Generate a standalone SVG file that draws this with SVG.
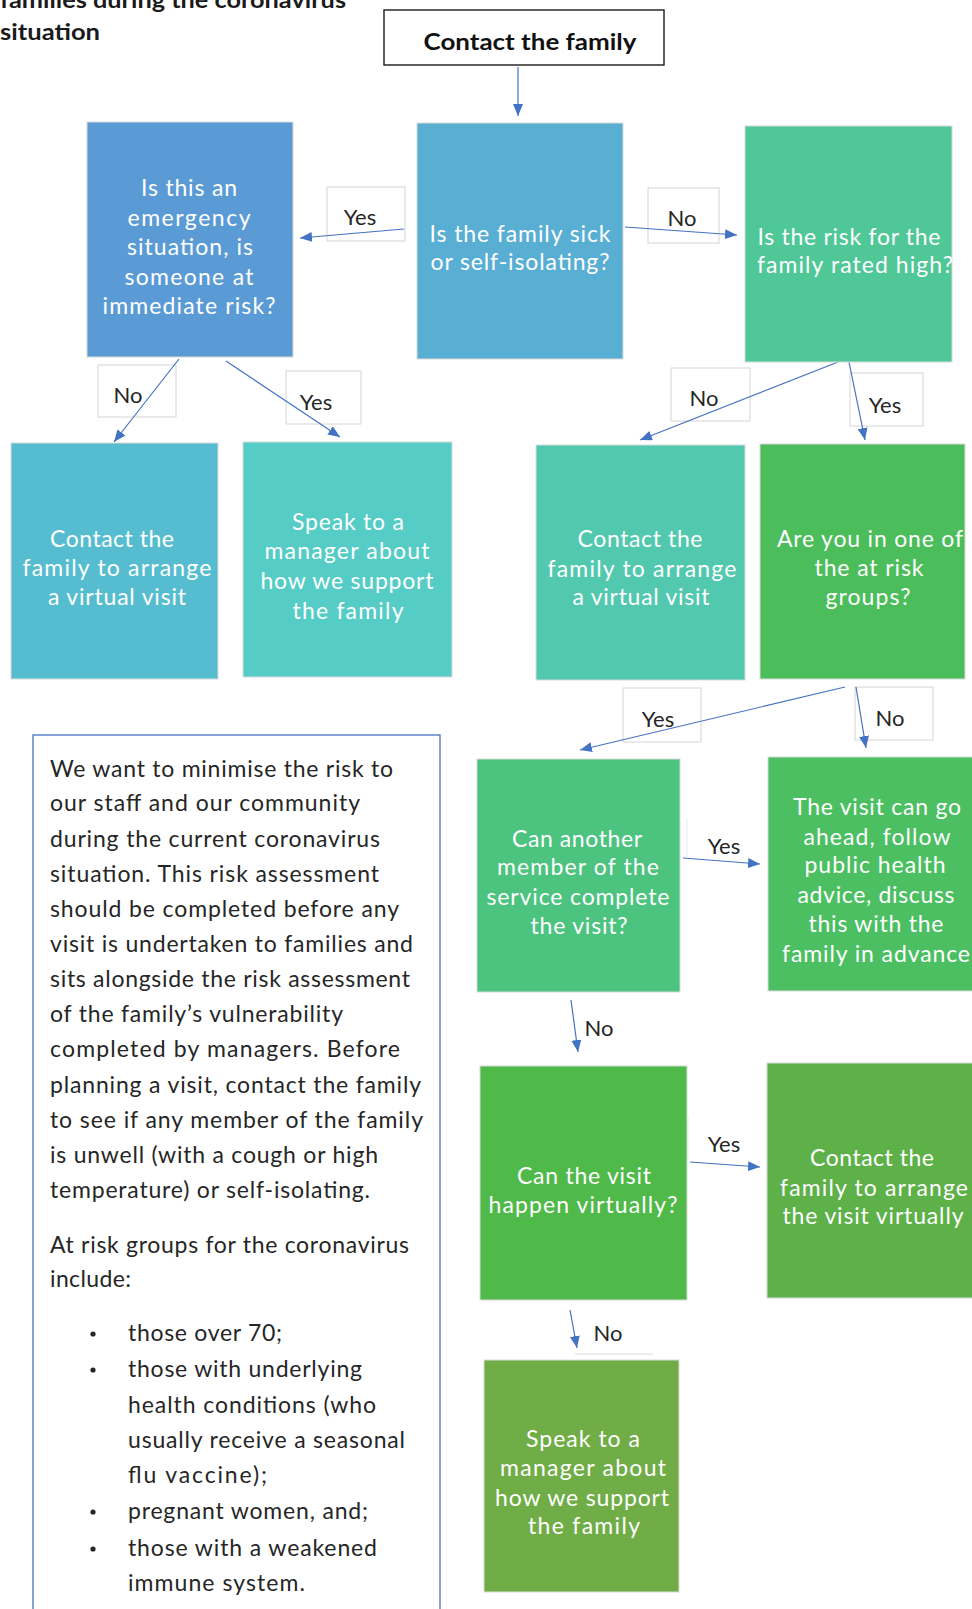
<svg xmlns="http://www.w3.org/2000/svg" width="972" height="1609" viewBox="0 0 972 1609">
<style>
  .bt { fill: #ffffff; font-family: Lato, "Open Sans", sans-serif; font-size: 23px; text-anchor: middle; }
  .bx { stroke: #dadada; stroke-width: 1; }
  .lr { fill: #ffffff; stroke: #d4d4d4; stroke-width: 1; }
  .lt { fill: #262626; font-family: Lato, "Open Sans", sans-serif; font-size: 22px; text-anchor: middle; }
  .pt { fill: #262626; font-family: Lato, "Open Sans", sans-serif; font-size: 23px; }
  .ttl { fill: #1a1a1a; font-family: Lato, "Open Sans", sans-serif; font-size: 23px; font-weight: bold; }
  .cn { stroke: #4472C4; stroke-width: 1.2; fill: none; marker-end: url(#ah); }
</style>
<defs>
  <marker id="ah" markerUnits="userSpaceOnUse" markerWidth="13" markerHeight="11" refX="12" refY="5" orient="auto">
    <path d="M0,0 L12,5 L0,10 z" fill="#4472C4"/>
  </marker>
</defs>
<rect x="0" y="0" width="972" height="1609" fill="#ffffff"/>

<g id="title">
  <text class="ttl" x="0" y="8" textLength="346" lengthAdjust="spacingAndGlyphs">families during the coronavirus</text>
  <text class="ttl" x="0" y="40" textLength="100" lengthAdjust="spacingAndGlyphs">situation</text>
</g>

<g id="label-boxes">
  <rect class="lr" x="327" y="187" width="78" height="54"/>
  <rect class="lr" x="648" y="188" width="71" height="55"/>
  <rect class="lr" x="98" y="365" width="78" height="52"/>
  <rect class="lr" x="286" y="371" width="75" height="53"/>
  <rect class="lr" x="671" y="368" width="79" height="53"/>
  <rect class="lr" x="850" y="373" width="73" height="53"/>
  <rect class="lr" x="623" y="688" width="78" height="54"/>
  <rect class="lr" x="855" y="687" width="78" height="53"/>
  <line x1="687" y1="818" x2="687" y2="857" stroke="#ececec" stroke-width="1"/>
  <line x1="688" y1="1115" x2="688" y2="1160" stroke="#ececec" stroke-width="1"/>
  <line x1="575" y1="1354" x2="653" y2="1354" stroke="#dcdcdc" stroke-width="1"/>
</g>

<g id="connectors">
  <line class="cn" x1="518" y1="67" x2="518" y2="116"/>
  <line class="cn" x1="404" y1="229" x2="300" y2="238"/>
  <line class="cn" x1="625" y1="227" x2="737" y2="235"/>
  <line class="cn" x1="179" y1="359" x2="114" y2="442"/>
  <line class="cn" x1="226" y1="361" x2="340" y2="437"/>
  <line class="cn" x1="838" y1="362" x2="640" y2="440"/>
  <line class="cn" x1="849" y1="362" x2="865" y2="440"/>
  <line class="cn" x1="845" y1="687" x2="580" y2="750"/>
  <line class="cn" x1="856" y1="687" x2="866" y2="748"/>
  <line class="cn" x1="683" y1="858" x2="760" y2="864"/>
  <line class="cn" x1="571" y1="1000" x2="578" y2="1052"/>
  <line class="cn" x1="690" y1="1162" x2="760" y2="1167"/>
  <line class="cn" x1="570" y1="1310" x2="577" y2="1348"/>
</g>

<g id="labels">
  <text class="lt" x="360" y="225">Yes</text>
  <text class="lt" x="682" y="226">No</text>
  <text class="lt" x="128" y="403">No</text>
  <text class="lt" x="316" y="410">Yes</text>
  <text class="lt" x="704" y="406">No</text>
  <text class="lt" x="885" y="413">Yes</text>
  <text class="lt" x="658" y="727">Yes</text>
  <text class="lt" x="890" y="726">No</text>
  <text class="lt" x="724" y="854">Yes</text>
  <text class="lt" x="724" y="1152">Yes</text>
  <text class="lt" x="599" y="1036">No</text>
  <text class="lt" x="608" y="1341">No</text>
</g>

<g id="contact-family">
  <rect x="384" y="10" width="280" height="55" fill="#ffffff" stroke="#1a1a1a" stroke-width="1.4"/>
  <text x="530" y="50" fill="#111111" font-family="Lato, 'Open Sans', sans-serif" font-size="23" font-weight="bold" text-anchor="middle" textLength="213" lengthAdjust="spacingAndGlyphs">Contact the  family</text>
</g>

<g id="emergency">
  <rect class="bx" x="87" y="122" width="206" height="235" fill="#5B9BD5"/>
  <text class="bt" x="189" y="196" textLength="96">Is this an</text>
  <text class="bt" x="189" y="226" textLength="123">emergency</text>
  <text class="bt" x="190" y="255" textLength="126">situation, is</text>
  <text class="bt" x="189" y="285" textLength="129">someone at</text>
  <text class="bt" x="189" y="314" textLength="173">immediate risk?</text>
</g>

<g id="sick">
  <rect class="bx" x="417" y="123" width="206" height="236" fill="#58AED3"/>
  <text class="bt" x="520" y="242" textLength="181">Is the family sick</text>
  <text class="bt" x="520" y="270" textLength="179">or self-isolating?</text>
</g>

<g id="risk-high">
  <rect class="bx" x="745" y="126" width="207" height="236" fill="#4FC797"/>
  <text class="bt" x="849" y="245" textLength="183">Is the risk for the</text>
  <text class="bt" x="855" y="273" textLength="196">family rated high?</text>
</g>

<g id="virtual-1">
  <rect class="bx" x="11" y="443" width="207" height="236" fill="#56BDD0"/>
  <text class="bt" x="112" y="547" textLength="124">Contact the</text>
  <text class="bt" x="117" y="576" textLength="189">family to arrange</text>
  <text class="bt" x="117" y="605" textLength="138">a virtual visit</text>
</g>

<g id="manager-1">
  <rect class="bx" x="243" y="442" width="209" height="235" fill="#55CDC6"/>
  <text class="bt" x="348" y="530" textLength="112">Speak to a</text>
  <text class="bt" x="347" y="559" textLength="165">manager about</text>
  <text class="bt" x="347" y="589" textLength="173">how we support</text>
  <text class="bt" x="348" y="619" textLength="111">the family</text>
</g>

<g id="virtual-2">
  <rect class="bx" x="536" y="445" width="209" height="235" fill="#52C9AE"/>
  <text class="bt" x="640" y="547" textLength="125">Contact the</text>
  <text class="bt" x="642" y="577" textLength="189">family to arrange</text>
  <text class="bt" x="641" y="605" textLength="137">a virtual visit</text>
</g>

<g id="at-risk-groups">
  <rect class="bx" x="760" y="444" width="205" height="235" fill="#4BBD5B"/>
  <text class="bt" x="870" y="547" textLength="186">Are you in one of</text>
  <text class="bt" x="869" y="576" textLength="109">the at risk</text>
  <text class="bt" x="868" y="605" textLength="85">groups?</text>
</g>

<g id="another-member">
  <rect class="bx" x="477" y="759" width="203" height="233" fill="#4CC37F"/>
  <text class="bt" x="577" y="847" textLength="130">Can another</text>
  <text class="bt" x="578" y="875" textLength="162">member of the</text>
  <text class="bt" x="578" y="905" textLength="183">service complete</text>
  <text class="bt" x="579" y="934" textLength="97">the visit?</text>
</g>

<g id="visit-ahead">
  <rect class="bx" x="768" y="757" width="206" height="234" fill="#4BBF62"/>
  <text class="bt" x="877" y="815" textLength="168">The visit can go</text>
  <text class="bt" x="877" y="845" textLength="147">ahead, follow</text>
  <text class="bt" x="875" y="873" textLength="141">public health</text>
  <text class="bt" x="876" y="903" textLength="157">advice, discuss</text>
  <text class="bt" x="876" y="932" textLength="135">this with the</text>
  <text class="bt" x="876" y="962" textLength="188">family in advance</text>
</g>

<g id="happen-virtually">
  <rect class="bx" x="480" y="1066" width="207" height="234" fill="#4FB949"/>
  <text class="bt" x="584" y="1184" textLength="134">Can the visit</text>
  <text class="bt" x="583" y="1213" textLength="189">happen virtually?</text>
</g>

<g id="arrange-virtually">
  <rect class="bx" x="767" y="1063" width="207" height="235" fill="#5DB148"/>
  <text class="bt" x="872" y="1166" textLength="124">Contact the</text>
  <text class="bt" x="874" y="1196" textLength="188">family to arrange</text>
  <text class="bt" x="873" y="1224" textLength="181">the visit virtually</text>
</g>

<g id="manager-2">
  <rect class="bx" x="484" y="1360" width="195" height="232" fill="#70AD47"/>
  <text class="bt" x="583" y="1447" textLength="114">Speak to a</text>
  <text class="bt" x="583" y="1476" textLength="166">manager about</text>
  <text class="bt" x="582" y="1506" textLength="174">how we support</text>
  <text class="bt" x="584" y="1534" textLength="112">the family</text>
</g>

<g id="info-box">
  <rect x="33" y="735" width="407" height="900" fill="#ffffff" stroke="#4472C4" stroke-width="1.3"/>
  <text class="pt" x="50" y="777" textLength="343">We want to minimise the risk to</text>
  <text class="pt" x="50" y="811" textLength="310">our staff and our community</text>
  <text class="pt" x="50" y="847" textLength="330">during the current coronavirus</text>
  <text class="pt" x="50" y="882" textLength="329">situation.  This risk assessment</text>
  <text class="pt" x="50" y="917" textLength="349">should be completed before any</text>
  <text class="pt" x="50" y="952" textLength="363">visit is undertaken to families and</text>
  <text class="pt" x="50" y="987" textLength="360">sits alongside the risk assessment</text>
  <text class="pt" x="50" y="1022" textLength="293">of the family’s vulnerability</text>
  <text class="pt" x="50" y="1057" textLength="350">completed by managers.  Before</text>
  <text class="pt" x="50" y="1093" textLength="371">planning a visit, contact the family</text>
  <text class="pt" x="50" y="1128" textLength="373">to see if any member of the family</text>
  <text class="pt" x="50" y="1163" textLength="328">is unwell (with a cough or high</text>
  <text class="pt" x="50" y="1198" textLength="320">temperature) or self-isolating.</text>
  <text class="pt" x="50" y="1253" textLength="359">At risk groups for the coronavirus</text>
  <text class="pt" x="50" y="1287" textLength="81">include:</text>
  <circle cx="93" cy="1334" r="2.6" fill="#262626"/>
  <circle cx="93" cy="1370" r="2.6" fill="#262626"/>
  <circle cx="93" cy="1512" r="2.6" fill="#262626"/>
  <circle cx="93" cy="1549" r="2.6" fill="#262626"/>
  <text class="pt" x="128" y="1341" textLength="154">those over 70;</text>
  <text class="pt" x="128" y="1377" textLength="234">those with underlying</text>
  <text class="pt" x="128" y="1413" textLength="248">health conditions (who</text>
  <text class="pt" x="128" y="1448" textLength="277">usually receive a seasonal</text>
  <text class="pt" x="128" y="1483" textLength="139">flu vaccine);</text>
  <text class="pt" x="128" y="1519" textLength="240">pregnant women, and;</text>
  <text class="pt" x="128" y="1556" textLength="249">those with a weakened</text>
  <text class="pt" x="128" y="1591" textLength="177">immune system.</text>
</g>
</svg>
